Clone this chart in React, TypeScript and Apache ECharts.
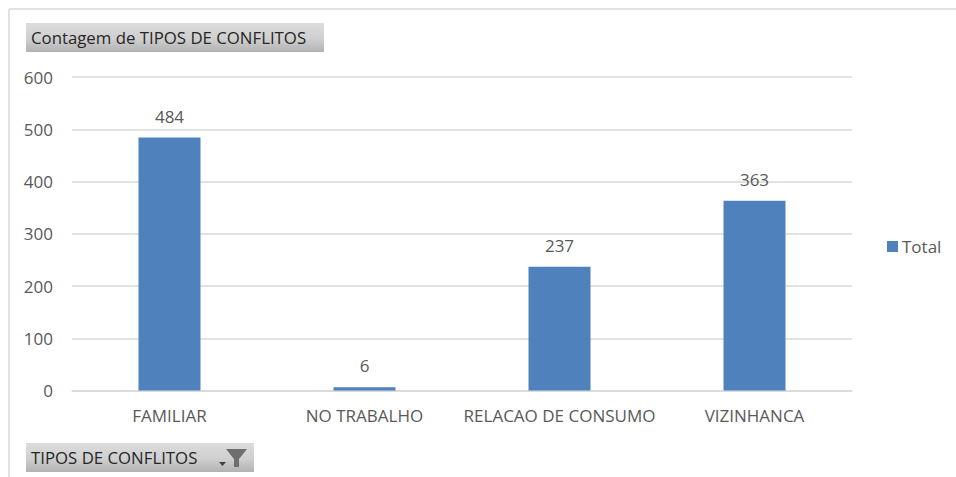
import React, { useEffect, useRef } from "react";
import * as echarts from "echarts";

const categories = ["FAMILIAR", "NO TRABALHO", "RELACAO DE CONSUMO", "VIZINHANCA"];
const totals = [484, 6, 237, 363];
const seriesName = "Total";
const valueTitle = "Contagem de TIPOS DE CONFLITOS";
const filterTitle = "TIPOS DE CONFLITOS";
const FONT = "'Open Sans', 'Noto Sans', sans-serif";

const buttonFill = () =>
  new echarts.graphic.LinearGradient(0, 0, 0, 1, [
    { offset: 0, color: "#dcdcdc" },
    { offset: 0.55, color: "#cfcfcf" },
    { offset: 1, color: "#b2b2b2" },
  ]);

export default function App() {
  const ref = useRef<HTMLDivElement>(null);
  useEffect(() => {
    const chart = echarts.init(ref.current!, null, { renderer: "svg" });
    chart.setOption({
      animation: false,
      backgroundColor: "#ffffff",
      grid: { left: 72, right: 104, top: 77, height: 313.5 },
      legend: {
        show: true,
        left: 882,
        top: 233,
        itemWidth: 11,
        itemHeight: 11,
        itemGap: 4,
        icon: "rect",
        textStyle: { color: "#595959", fontSize: 17, fontFamily: FONT, padding: [0, 0, 0, -1] },
      },
      xAxis: {
        type: "category",
        data: categories,
        axisTick: { show: false },
        axisLine: { lineStyle: { color: "#d9d9d9", width: 1.5 } },
        axisLabel: { color: "#595959", fontSize: 17, fontFamily: FONT, margin: 16, interval: 0 },
      },
      yAxis: {
        type: "value",
        min: 0,
        max: 600,
        interval: 100,
        axisLine: { show: false },
        axisTick: { show: false },
        splitLine: { lineStyle: { color: "#d9d9d9", width: 1.5 } },
        axisLabel: { color: "#595959", fontSize: 17, fontFamily: FONT, margin: 19 },
      },
      series: [
        {
          type: "bar",
          name: seriesName,
          data: totals,
          barWidth: 62,
          itemStyle: { color: "#4f81bd" },
          label: {
            show: true,
            position: "top",
            distance: 13,
            color: "#595959",
            fontSize: 17,
            fontFamily: FONT,
          },
        },
      ],
      graphic: [
        { type: "line", shape: { x1: 9, y1: 9, x2: 956, y2: 9 }, style: { stroke: "#d9d9d9", lineWidth: 1.5 } },
        { type: "line", shape: { x1: 9, y1: 9, x2: 9, y2: 477 }, style: { stroke: "#d9d9d9", lineWidth: 1.5 } },
        { type: "rect", shape: { x: 26, y: 23, width: 298, height: 29 }, style: { fill: buttonFill() } },
        {
          type: "text",
          x: 31,
          y: 37,
          style: { text: valueTitle, fill: "#262626", fontSize: 16.8, fontFamily: FONT, verticalAlign: "middle" },
        },
        { type: "rect", shape: { x: 26, y: 443, width: 228, height: 29 }, style: { fill: buttonFill() } },
        {
          type: "text",
          x: 31,
          y: 457,
          style: { text: filterTitle, fill: "#262626", fontSize: 16.8, fontFamily: FONT, verticalAlign: "middle" },
        },
        {
          type: "polygon",
          shape: { points: [[219, 462], [226, 462], [222.5, 466]] },
          style: { fill: "#404040" },
        },
        {
          type: "polygon",
          shape: {
            points: [[226, 449], [247, 449], [239, 459], [239, 467], [234, 467], [234, 459]],
          },
          style: { fill: "#6e6e6e" },
        },
      ],
    });
    return () => chart.dispose();
  }, []);
  return (
    <div
      ref={ref}
      style={{ position: "absolute", left: 0, top: 0, width: 956, height: 477 }}
    />
  );
}
